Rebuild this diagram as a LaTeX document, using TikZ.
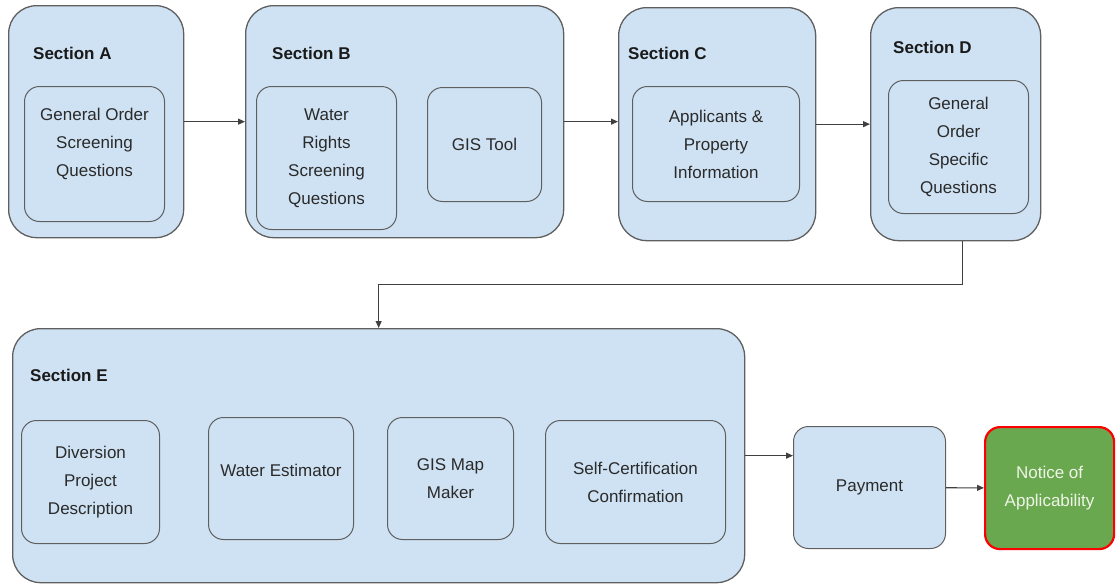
\documentclass[tikz,border=0pt]{standalone}
\usepackage{fontspec}
\setmainfont{Liberation Sans}
\usepackage{xcolor}
\usetikzlibrary{positioning, arrows.meta}

\definecolor{paleblue}{HTML}{CFE2F3}
\definecolor{edgegray}{HTML}{5F5F5F}
\definecolor{arrowgray}{HTML}{404040}
\definecolor{textgray}{HTML}{2A2A2A}
\definecolor{titleblack}{HTML}{1A1A1A}
\definecolor{noticegreen}{HTML}{6AA84F}
\definecolor{noticetext}{HTML}{EEF5E8}

\begin{document}
\begin{tikzpicture}[
  x=1pt, y=-1pt,
  secbox/.style={rectangle, rounded corners=28pt, draw=edgegray, fill=paleblue, line width=1.3pt, anchor=north west, inner sep=0pt},
  itembox/.style={rectangle, rounded corners=15pt, draw=edgegray, fill=paleblue, line width=1pt, anchor=north west, align=center, inner sep=2pt, text=textgray, font=\fontsize{17}{28}\selectfont},
  sectitle/.style={anchor=west, inner sep=0pt, text=titleblack, font=\fontsize{17}{20}\selectfont\bfseries},
  arr/.style={-{Triangle[length=7pt, width=6pt]}, line width=1.1pt, draw=arrowgray}
]
\useasboundingbox (0,0) rectangle (1116,584);
\node[secbox, minimum width=175pt, minimum height=232pt] (secA) at (8,5) {};
\node[secbox, minimum width=318pt, minimum height=232pt] (secB) at (245,5) {};
\node[secbox, minimum width=197pt, minimum height=233pt] (secC) at (618,7) {};
\node[secbox, minimum width=170pt, minimum height=233pt] (secD) at (870,7) {};
\node[secbox, minimum width=732pt, minimum height=254pt] (secE) at (12,328) {};
\node[sectitle] (titleA) at (33,53) {Section A};
\node[sectitle] (titleB) at (272,53) {Section B};
\node[sectitle] (titleC) at (628,53) {Section C};
\node[sectitle] (titleD) at (893,47) {Section D};
\node[sectitle] (titleE) at (30,375) {Section E};
\node[itembox, minimum width=140pt, minimum height=135pt, text depth=24pt] (screen) at (24,86) {General Order\\Screening\\Questions};
\node[itembox, minimum width=140pt, minimum height=143pt] (rights) at (256,86) {Water\\Rights\\Screening\\Questions};
\node[itembox, minimum width=114pt, minimum height=114pt] (gistool) at (427,87) {GIS Tool};
\node[itembox, minimum width=167pt, minimum height=115pt] (property) at (632,86) {Applicants \&\\Property\\Information};
\node[itembox, minimum width=140pt, minimum height=133pt] (specific) at (888,80) {General\\Order\\Specific\\Questions};
\node[itembox, minimum width=138pt, minimum height=123pt] (diversion) at (21,420) {Diversion\\Project\\Description};
\node[itembox, minimum width=145pt, minimum height=122pt, text depth=16pt] (estimator) at (208,417) {Water Estimator};
\node[itembox, minimum width=126pt, minimum height=122pt] (mapmaker) at (387,417) {GIS Map\\Maker};
\node[itembox, minimum width=180pt, minimum height=123pt] (selfcert) at (545,420) {Self-Certification\\Confirmation};
\node[itembox, minimum width=152pt, minimum height=122pt] (pay) at (793,426) {Payment};
\node[itembox, minimum width=129pt, minimum height=122pt, fill=noticegreen, draw=red, line width=2.2pt, text=noticetext] (notice) at (984,426) {Notice of\\Applicability};
\draw[arr] (secA) -- (secB);
\draw[arr] (secB.east) -- (secC.west |- secB.east);
\draw[arr] (secC.east) -- (secD.west |- secC.east);
\draw[arr] ([xshift=7pt]secD.south) -- ++(0,43) -| (secE.north);
\draw[arr] (secE.east) -- (secE.east -| pay.west);
\draw[arr] (pay) -- (notice);
\end{tikzpicture}
\end{document}
